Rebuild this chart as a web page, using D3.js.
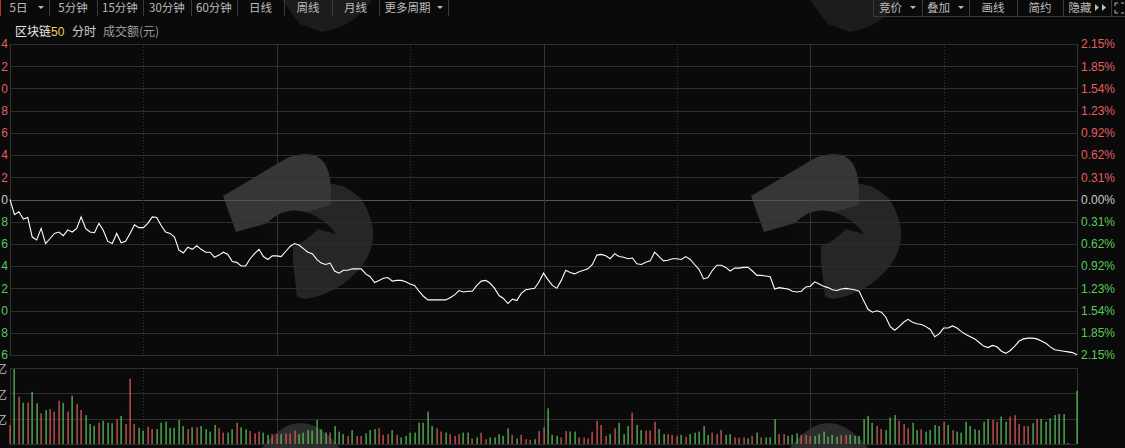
<!DOCTYPE html>
<html>
<head>
<meta charset="utf-8">
<script src="https://cdn.jsdelivr.net/npm/d3@7"></script>
<style>
body { margin: 0; background: #0a0a0a; overflow: hidden; }
svg { display: block; font-family: "Liberation Sans", "Noto Sans CJK SC", sans-serif; }
</style>
</head>
<body>
<svg width="1125" height="448"></svg>
<script>
// intraday % change vs previous close, 60 points per session, 4 sessions
var pricePct = [
 0.00,-0.21,-0.17,-0.27,-0.25,-0.52,-0.56,-0.40,-0.61,-0.54,
-0.47,-0.45,-0.50,-0.42,-0.45,-0.40,-0.24,-0.40,-0.45,-0.46,
-0.33,-0.43,-0.58,-0.61,-0.47,-0.60,-0.58,-0.47,-0.35,-0.39,
-0.39,-0.33,-0.24,-0.25,-0.36,-0.45,-0.47,-0.52,-0.70,-0.74,
-0.66,-0.69,-0.64,-0.69,-0.73,-0.73,-0.80,-0.77,-0.73,-0.76,
-0.86,-0.87,-0.92,-0.92,-0.82,-0.75,-0.69,-0.79,-0.83,-0.78,
-0.78,-0.79,-0.72,-0.65,-0.61,-0.63,-0.68,-0.73,-0.75,-0.83,
-0.88,-0.90,-0.88,-0.99,-1.02,-0.98,-0.98,-0.96,-0.96,-0.96,
-1.03,-1.07,-1.15,-1.12,-1.09,-1.08,-1.13,-1.12,-1.12,-1.14,
-1.17,-1.19,-1.27,-1.34,-1.39,-1.39,-1.39,-1.39,-1.39,-1.36,
-1.32,-1.26,-1.28,-1.27,-1.27,-1.19,-1.13,-1.12,-1.16,-1.23,
-1.33,-1.37,-1.44,-1.38,-1.40,-1.30,-1.25,-1.24,-1.23,-1.14,
-1.02,-1.11,-1.19,-1.23,-1.12,-0.98,-1.01,-1.03,-1.00,-0.98,
-0.96,-0.90,-0.77,-0.76,-0.78,-0.82,-0.75,-0.79,-0.80,-0.82,
-0.81,-0.89,-0.90,-0.87,-0.85,-0.73,-0.79,-0.85,-0.84,-0.82,
-0.82,-0.83,-0.79,-0.83,-0.90,-0.97,-1.10,-1.08,-0.98,-0.91,
-0.91,-0.94,-0.99,-0.95,-0.95,-0.94,-0.94,-0.99,-1.05,-1.05,
-1.06,-1.07,-1.24,-1.22,-1.23,-1.24,-1.27,-1.28,-1.27,-1.21,
-1.20,-1.14,-1.17,-1.20,-1.22,-1.25,-1.26,-1.24,-1.23,-1.24,
-1.25,-1.27,-1.40,-1.52,-1.56,-1.54,-1.56,-1.63,-1.76,-1.81,
-1.76,-1.70,-1.66,-1.70,-1.72,-1.73,-1.76,-1.80,-1.90,-1.86,
-1.78,-1.78,-1.75,-1.78,-1.83,-1.87,-1.90,-1.93,-1.98,-2.03,
-2.05,-2.02,-2.04,-2.10,-2.13,-2.09,-2.03,-1.96,-1.93,-1.92,
-1.92,-1.93,-1.96,-1.99,-2.04,-2.08,-2.09,-2.10,-2.11,-2.12,
-2.15
];

// turnover, in gridline units
var volume = [
0.75,2.96,1.87,1.63,1.63,2.06,1.61,1.21,1.34,1.38,
1.28,1.71,1.63,1.28,1.91,1.57,1.34,1.14,0.79,0.72,
0.84,0.92,0.84,0.82,0.98,1.11,0.79,2.57,0.79,0.64,
0.53,0.68,0.59,0.59,0.84,0.88,0.64,0.64,0.95,0.71,
0.59,0.66,0.66,0.71,0.59,0.49,0.75,0.62,0.45,0.45,
0.59,0.84,0.66,0.58,0.51,0.42,0.49,0.45,0.36,0.39,
0.39,0.39,0.42,0.42,0.53,0.39,0.45,0.55,0.53,0.95,
0.58,0.45,0.45,0.71,0.49,0.39,0.32,0.55,0.32,0.32,
0.42,0.55,0.59,0.62,0.36,0.39,0.55,0.36,0.26,0.32,
0.45,0.45,0.84,0.84,1.28,0.71,0.62,0.49,0.45,0.39,
0.32,0.39,0.45,0.45,0.22,0.26,0.45,0.19,0.26,0.26,
0.39,0.32,0.62,0.36,0.22,0.36,0.19,0.16,0.19,0.51,
0.66,1.41,0.36,0.32,0.26,0.51,0.49,0.49,0.26,0.26,
0.22,0.49,0.92,0.75,0.32,0.39,0.62,0.84,0.39,0.71,
1.24,0.75,0.55,0.53,0.53,0.88,0.59,0.39,0.39,0.36,
0.32,0.36,0.29,0.39,0.45,0.49,0.71,0.36,0.45,0.39,
0.55,0.36,0.39,0.26,0.25,0.26,0.22,0.32,0.45,0.26,
0.26,0.26,0.98,0.39,0.39,0.32,0.36,0.42,0.36,0.36,
0.32,0.32,0.39,0.49,0.29,0.36,0.29,0.36,0.36,0.36,
0.32,0.32,0.98,1.11,0.84,0.71,0.59,0.55,1.05,1.14,
0.92,0.79,0.62,0.84,0.55,0.58,0.49,0.55,0.75,0.71,
0.88,0.75,0.55,0.49,0.45,0.88,0.71,0.58,0.55,0.88,
0.98,0.95,0.88,1.08,0.88,1.08,1.14,0.79,0.71,0.71,
0.82,0.99,0.99,0.88,1.01,1.14,1.18,1.18,0.03,0,
2.10
];

// r = up bar, g = down bar
var volDir = ("rgrgrggrgr" + "rrgrgrrggg" + "rgggrgrrrg" + "grrggggggg" + "rgrggggrrg" + "grggrrrggr" +
              "rgrrrggggg" + "ggrgggrgrr" + "gggrrrgrgg" + "ggggggrrgr" + "rrggrgrrgg" + "gggrgrrrgr" +
              "rgggrrggrr" + "rrrrrgrggg" + "rggrrrggrr" + "rgrgggggrr" + "rggrrrgrgr" + "gggrrgggrr" +
              "rggggggrrg" + "gggggrrggg" + "rrrggrgggg" + "rgrggggggg" + "grrggrrrrr" + "grgggggggg" + "g").split("");

var leftDigits = ["4","2","0","8","6","4","2","0","8","6","4","2","0","8","6"];
var pctLabels = ["2.15%","1.85%","1.54%","1.23%","0.92%","0.62%","0.31%","0.00%",
                 "0.31%","0.62%","0.92%","1.23%","1.54%","1.85%","2.15%"];
var volTicks = [3, 2, 1];
var leftTabs = ["5日","5分钟","15分钟","30分钟","60分钟","日线","周线","月线","更多周期"];
var rightTabs = ["竞价","叠加","画线","简约","隐藏"];

var RED = "#e35f5f", GREEN = "#5cc85c";
var svg = d3.select("svg");

var pMax = 2.153;
var x = d3.scaleLinear().domain([0, 240]).range([10, 1077]);
var y = d3.scaleLinear().domain([-pMax, pMax]).range([355, 44]);
var yv = d3.scaleLinear().domain([0, 3]).range([444, 368]);
var gridVals = d3.range(15).map(function(k) { return pMax - k * pMax / 7; });

// watermark logos
var wm = svg.append("g");
[0, 528].forEach(function(dx) {
  var g = wm.append("g").attr("transform", "translate(" + dx + ",0)");
  g.append("path")
   .attr("d", "M293,200 Q332,168 362,200 Q382,232 366,260 Q345,292 306,299 L297,297 L293,262 Z")
   .attr("fill", "#262626");
  g.append("path")
   .attr("d", "M223,196 L287,158 Q330,142 331,190 L331,205 L236,232 Z")
   .attr("fill", "#363636");
  g.append("path")
   .attr("d", "M262,229 Q280,205 306,212 Q326,219 336,234 L318,229 Q306,242 291,247 Q276,241 262,229 Z")
   .attr("fill", "#0c0c0c");
  g.append("path").attr("d", "M262,448 Q300,398 340,448 Z").attr("fill", "#2c2c2c");
  g.append("path").attr("d", "M282,0 L372,0 Q355,26 322,32 L300,24 Z").attr("fill", "#1c1c1c");
});

// horizontal grid
svg.append("g").selectAll("line").data(gridVals).enter().append("line")
   .attr("x1", 10).attr("x2", 1077)
   .attr("y1", function(d) { return Math.round(y(d)) + 0.5; })
   .attr("y2", function(d) { return Math.round(y(d)) + 0.5; })
   .attr("stroke", function(d, i) { return i === 7 ? "#555" : "#2e2e2e"; });
svg.append("g").selectAll("line").data([0].concat(volTicks)).enter().append("line")
   .attr("x1", 10).attr("x2", 1077)
   .attr("y1", function(d) { return Math.round(yv(d)) + 0.5; })
   .attr("y2", function(d) { return Math.round(yv(d)) + 0.5; })
   .attr("stroke", "#2e2e2e");

// vertical grid: borders, session breaks, mid-session
var solidIdx = [0, 60, 120, 180, 240], dashIdx = [30, 90, 150, 210];
[[44, 355], [368, 444]].forEach(function(r) {
  svg.append("g").selectAll("line").data(solidIdx).enter().append("line")
     .attr("x1", function(d) { return Math.round(x(d)) + 0.5; })
     .attr("x2", function(d) { return Math.round(x(d)) + 0.5; })
     .attr("y1", r[0]).attr("y2", r[1]).attr("stroke", "#343434");
  svg.append("g").selectAll("line").data(dashIdx).enter().append("line")
     .attr("x1", function(d) { return Math.round(x(d)) + 0.5; })
     .attr("x2", function(d) { return Math.round(x(d)) + 0.5; })
     .attr("y1", r[0]).attr("y2", r[1]).attr("stroke", "#3a3a3a")
     .attr("stroke-dasharray", "1,2");
});

// volume bars
svg.append("g").selectAll("rect").data(volume).enter().append("rect")
   .attr("x", function(d, i) { return Math.round(x(i)) - 0.5; })
   .attr("width", 1.2)
   .attr("y", function(d) { return yv(d); })
   .attr("height", function(d) { return yv(0) - yv(d); })
   .attr("fill", function(d, i) { return volDir[i] === "r" ? RED : GREEN; });

// price line
svg.append("path").datum(pricePct)
   .attr("fill", "none").attr("stroke", "#ffffff").attr("stroke-width", 1.1)
   .attr("d", d3.line().x(function(d, i) { return x(i); }).y(function(d) { return y(d); }));

// axes
function labelColor(d, i) { return i < 7 ? RED : (i === 7 ? "#c8c8c8" : GREEN); }

var ra = svg.append("g").attr("transform", "translate(1115,0)")
   .call(d3.axisLeft(y).tickValues(gridVals).tickSize(0).tickPadding(0)
     .tickFormat(function(d, i) { return pctLabels[i]; }));
ra.select(".domain").remove();
ra.selectAll("text").attr("fill", labelColor).style("font-size", "12px")
  .style("font-family", "Liberation Sans");

var la = svg.append("g").attr("transform", "translate(8,0)")
   .call(d3.axisLeft(y).tickValues(gridVals).tickSize(0).tickPadding(0)
     .tickFormat(function(d, i) { return leftDigits[i]; }));
la.select(".domain").remove();
la.selectAll("text").attr("fill", labelColor).style("font-size", "12px")
  .style("font-family", "Liberation Sans");

var va = svg.append("g").attr("transform", "translate(7,2)")
   .call(d3.axisLeft(yv).tickValues(volTicks).tickSize(0).tickPadding(0)
     .tickFormat(function() { return "亿"; }));
va.select(".domain").remove();
va.selectAll("text").attr("fill", "#bdbdbd").style("font-size", "12px")
  .style("font-family", "Noto Sans CJK SC");

// toolbar
var tb = svg.append("g").style("font-size", "11.5px").style("font-family", "Noto Sans CJK SC");
var leftEdges = [0, 49, 97, 143, 191, 237, 284, 332, 379, 448];
tb.append("line").attr("x1", 0.5).attr("x2", 0.5).attr("y1", 0).attr("y2", 16).attr("stroke", "#c03030");
tb.selectAll(".sepL").data(leftEdges.slice(1)).enter().append("line")
  .attr("x1", function(d) { return d + 0.5; }).attr("x2", function(d) { return d + 0.5; })
  .attr("y1", 0).attr("y2", 16).attr("stroke", "#3a3a3a");
tb.selectAll(".tabL").data(leftTabs).enter().append("text")
  .attr("x", function(d, i) {
    var c = (leftEdges[i] + leftEdges[i + 1]) / 2;
    return (i === 0 || i === leftTabs.length - 1) ? c - 6 : c;
  })
  .attr("y", 12).attr("text-anchor", "middle").attr("fill", "#bcbcbc")
  .text(function(d) { return d; });

var rightEdges = [873, 922, 969, 1017, 1063, 1111];
tb.append("path").attr("d", "M873.5,0 V16.5 H1125").attr("fill", "none").attr("stroke", "#3a3a3a");
tb.selectAll(".sepR").data(rightEdges.slice(1)).enter().append("line")
  .attr("x1", function(d) { return d + 0.5; }).attr("x2", function(d) { return d + 0.5; })
  .attr("y1", 0).attr("y2", 16).attr("stroke", "#3a3a3a");
tb.selectAll(".tabR").data(rightTabs).enter().append("text")
  .attr("x", function(d, i) {
    var c = (rightEdges[i] + rightEdges[i + 1]) / 2;
    return (i === 2 || i === 3) ? c : c - 7;
  })
  .attr("y", 12).attr("text-anchor", "middle").attr("fill", "#bcbcbc")
  .text(function(d) { return d; });

// dropdown arrows
function down(cx) { return "M" + (cx - 3) + ",6 L" + (cx + 3) + ",6 L" + cx + ",9 Z"; }
[41, 440, 913, 961].forEach(function(cx) {
  tb.append("path").attr("d", down(cx)).attr("fill", "#bcbcbc");
});
[1097, 1104].forEach(function(cx) {
  tb.append("path").attr("d", "M" + (cx - 2) + ",4 L" + (cx + 2) + ",7.5 L" + (cx - 2) + ",11 Z").attr("fill", "#bcbcbc");
});
tb.append("path").attr("d", "M1115,6 V3 H1118 M1115,10 V13 H1118 M1124,3 H1121 M1124,13 H1121")
  .attr("fill", "none").attr("stroke", "#bcbcbc");

// header
var hd = svg.append("text").attr("x", 15).attr("y", 36)
  .style("font-size", "12px").style("font-family", "Noto Sans CJK SC");
hd.append("tspan").attr("fill", "#e8e8e8").text("区块链");
hd.append("tspan").attr("fill", "#f0d45a").style("font-family", "Liberation Sans").text("50");
svg.append("text").attr("x", 72).attr("y", 36).attr("fill", "#cfcfcf")
  .style("font-size", "12px").style("font-family", "Noto Sans CJK SC").text("分时");
svg.append("text").attr("x", 103).attr("y", 36).attr("fill", "#9c9c9c")
  .style("font-size", "12px").style("font-family", "Noto Sans CJK SC").text("成交额(元)");
</script>
</body>
</html>
